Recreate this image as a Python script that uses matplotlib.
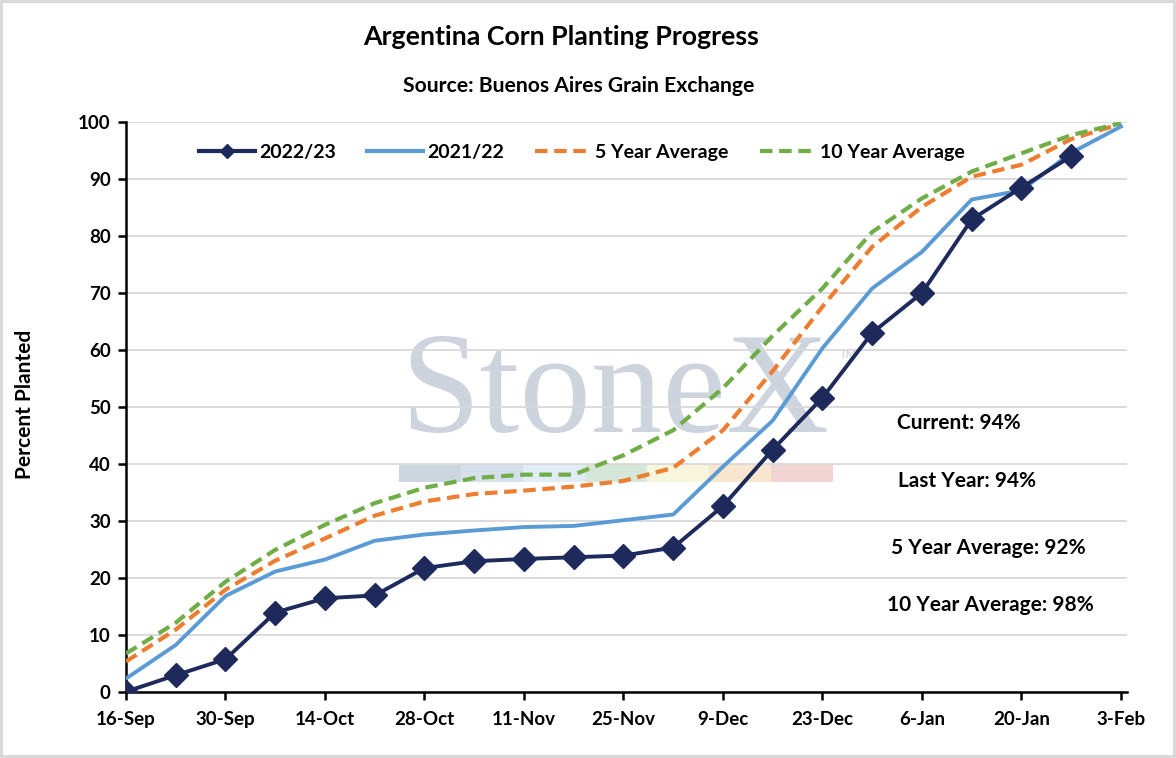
import numpy as np
import pandas as pd
import matplotlib
matplotlib.use("Agg")
import matplotlib.pyplot as plt
import matplotlib.dates as mdates
from matplotlib.patches import Rectangle
from matplotlib.lines import Line2D

plt.rcParams['font.family'] = ['Lato', 'DejaVu Sans']

dates = pd.date_range("2022-09-16", "2023-02-03", freq="7D")
y2223 = [0, 2.9, 5.7, 13.9, 16.4, 16.9, 21.7, 22.9, 23.3, 23.6, 23.9, 25.3,
         32.6, 42.5, 51.6, 63.0, 70.0, 82.9, 88.5, 94.0, np.nan]
y2122 = [2.3, 8.2, 16.8, 21.1, 23.2, 26.5, 27.6, 28.3, 28.9, 29.1, 30.1, 31.1,
         39.5, 47.6, 60.3, 70.8, 77.2, 86.4, 88.0, 94.6, 99.2]
avg5 = [5.3, 10.9, 17.9, 23.0, 26.9, 30.9, 33.4, 34.7, 35.3, 36.0, 37.0, 39.3,
        45.9, 56.3, 67.6, 78.1, 85.1, 90.4, 92.5, 97.0, 99.7]
avg10 = [6.7, 12.1, 19.3, 24.9, 29.3, 33.1, 35.8, 37.5, 38.1, 38.1, 41.5, 45.9,
         53.3, 62.5, 70.8, 80.7, 86.6, 91.3, 94.5, 97.7, 99.8]
tick_dates = pd.date_range("2022-09-16", "2023-02-03", freq="14D")
notes = ["Current: 94%", "Last Year: 94%", "5 Year Average: 92%", "10 Year Average: 98%"]

W, H = 1176, 758
fig = plt.figure(figsize=(W / 100, H / 100), dpi=100)
fig.patch.set_edgecolor('#d9d9d9')
fig.patch.set_linewidth(3)
ax = fig.add_axes([126 / W, 1 - 691.7 / H, (1127 - 126) / W, (691.7 - 122) / H])

# watermark
ax.text(400 / W, 1 - 432 / H, "StoneX", transform=fig.transFigure, family='Liberation Serif',
        fontsize=103, color='#cdd4dd', ha='left', va='baseline', zorder=0.2)
ax.text(840 / W, 1 - 358 / H, "TM", transform=fig.transFigure, fontsize=8,
        color='#c5ccd6', zorder=0.2)
bar_cols = ['#cdd5de', '#d6e0ec', '#e0ecf6', '#d5e7d8', '#f7f6dc', '#f9e6cf', '#f2d4d5']
for i, c in enumerate(bar_cols):
    ax.add_patch(Rectangle(((399 + 62 * i) / W, 1 - 482 / H), 62 / W, 18 / H,
                           transform=fig.transFigure, color=c, zorder=0.2, lw=0))

navy, blue, orange, green = '#1f2a5c', '#5b9bd5', '#ed7d31', '#70ad47'
dash = (0, (3, 1.6))
ax.plot(dates, y2223, color=navy, lw=2.8, marker='D', markersize=12, zorder=5)
ax.plot(dates, y2122, color=blue, lw=2.8, zorder=4)
ax.plot(dates, avg5, color=orange, lw=3, ls=dash, zorder=3)
ax.plot(dates, avg10, color=green, lw=3, ls=dash, zorder=3)

ax.set_xlim(dates[0], dates[-1] + pd.Timedelta(days=0.85))
ax.set_ylim(0, 100)
ax.set_yticks(range(0, 101, 10))
ax.set_xticks(tick_dates)
ax.xaxis.set_major_formatter(mdates.DateFormatter('%-d-%b'))
ax.set_axisbelow(True)
ax.grid(axis='y', color='#d9d9d9', lw=1.3)
for s in ['top', 'right']:
    ax.spines[s].set_visible(False)
for s in ['left', 'bottom']:
    ax.spines[s].set_linewidth(1.8)
ax.tick_params(axis='both', width=1.8, length=6, labelsize=13.5, pad=5)
for lab in ax.get_xticklabels() + ax.get_yticklabels():
    lab.set_fontweight('bold')
ax.tick_params(axis='x', pad=8)
ax.set_ylabel("Percent Planted", fontsize=15, fontweight='bold')
ax.yaxis.label.set_va('center')
ax.yaxis.set_label_coords((25 - 126) / (1127 - 126), 0.505)

handles = [Line2D([], [], color=navy, lw=3, marker='D', markersize=7),
           Line2D([], [], color=blue, lw=3),
           Line2D([], [], color=orange, lw=3, ls=dash),
           Line2D([], [], color=green, lw=3, ls=dash)]
labels = ['2022/23', '2021/22', '5 Year Average', '10 Year Average']
ax.legend(handles, labels, loc='upper center', bbox_to_anchor=(0.4555, 0.992), ncol=4,
          frameon=False, handlelength=2.9, columnspacing=1.6, handletextpad=0.2,
          prop={'size': 14, 'weight': 'bold'})

fig.text(0.477, 1 - 37 / H, "Argentina Corn Planting Progress", ha='center', va='center',
         fontsize=19.3, fontweight='bold')
fig.text(0.492, 1 - 86 / H, "Source: Buenos Aires Grain Exchange", ha='center', va='center',
         fontsize=15.2, fontweight='bold')
note_x = [897, 898, 891, 887]
note_y = [423, 481, 548, 605]
for t, nx, ny in zip(notes, note_x, note_y):
    fig.text(nx / W, 1 - ny / H, t, ha='left', va='center', fontsize=15, fontweight='bold')

fig.savefig("out.png", dpi=100)
